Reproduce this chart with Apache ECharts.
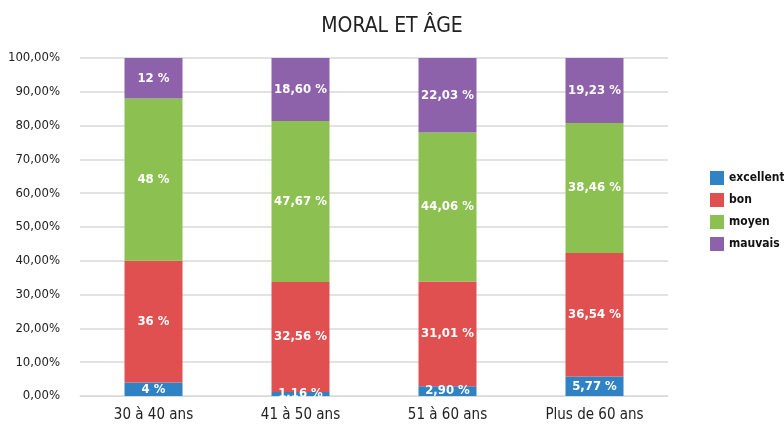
<!DOCTYPE html>
<html lang="fr">
<head>
    <meta charset="UTF-8">
    <title>Moral et âge</title>
    <style>
        html, body { margin: 0; padding: 0; background: #fff; }
        #main { width: 784px; height: 431px; }
    </style>
</head>
<body>
<div id="main"></div>
<script src="https://cdn.jsdelivr.net/npm/echarts@6/dist/echarts.min.js"></script>
<script>
    const myChart = echarts.init(document.getElementById('main'));

    // tranches d'âge
    const categories = ['30 à 40 ans', '41 à 50 ans', '51 à 60 ans', 'Plus de 60 ans'];

    // pourcentages par niveau de moral
    const excellent = [4, 1.16, 2.90, 5.77];
    const bon = [36, 32.56, 31.01, 36.54];
    const moyen = [48, 47.67, 44.06, 38.46];
    const mauvais = [12, 18.60, 22.03, 19.23];

    const names = ['excellent', 'bon', 'moyen', 'mauvais'];
    const colors = ['#2f82c4', '#e05050', '#8cc152', '#8e62aa'];
    const font = '"DejaVu Sans Condensed", "Liberation Sans Narrow", sans-serif';

    // "4 %" ou "1,16 %"
    const fmt = v => (Number.isInteger(v) ? String(v) : v.toFixed(2).replace('.', ',')) + ' %';

    const series = [excellent, bon, moyen, mauvais].map((data, i) => ({
        name: names[i],
        type: 'bar',
        stack: 'total',
        barWidth: 58,
        data,
        itemStyle: { color: colors[i] },
        label: {
            show: true,
            position: 'inside',
            color: '#fff',
            fontFamily: font,
            fontWeight: 'bold',
            fontSize: 13,
            formatter: p => fmt(p.value)
        }
    }));

    const option = {
        animation: false,
        title: {
            text: 'MORAL ET ÂGE',
            left: 'center',
            top: 11,
            textStyle: { fontFamily: font, fontWeight: 'normal', fontSize: 21, color: '#222' }
        },
        legend: {
            orient: 'vertical',
            left: 705,
            top: 166,
            itemWidth: 14,
            itemHeight: 14,
            itemGap: 8,
            icon: 'rect',
            textStyle: { fontFamily: font, fontWeight: 'bold', fontSize: 12, color: '#111' },
            data: names
        },
        grid: { left: 80, right: 116, top: 58, bottom: 35, containLabel: false },
        xAxis: {
            type: 'category',
            data: categories,
            axisLine: { show: true, lineStyle: { color: '#d9d9d9' } },
            axisTick: { show: false },
            axisLabel: { fontFamily: font, fontSize: 15, color: '#222', margin: 12 }
        },
        yAxis: {
            type: 'value',
            min: 0,
            max: 100,
            interval: 10,
            axisLine: { show: false },
            axisTick: { show: false },
            splitLine: { lineStyle: { color: '#d9d9d9', width: 1.5 } },
            axisLabel: {
                fontFamily: font,
                fontSize: 13,
                color: '#222',
                margin: 20,
                formatter: v => v.toFixed(2).replace('.', ',') + '%'
            }
        },
        series
    };

    myChart.setOption(option);
</script>
</body>
</html>
